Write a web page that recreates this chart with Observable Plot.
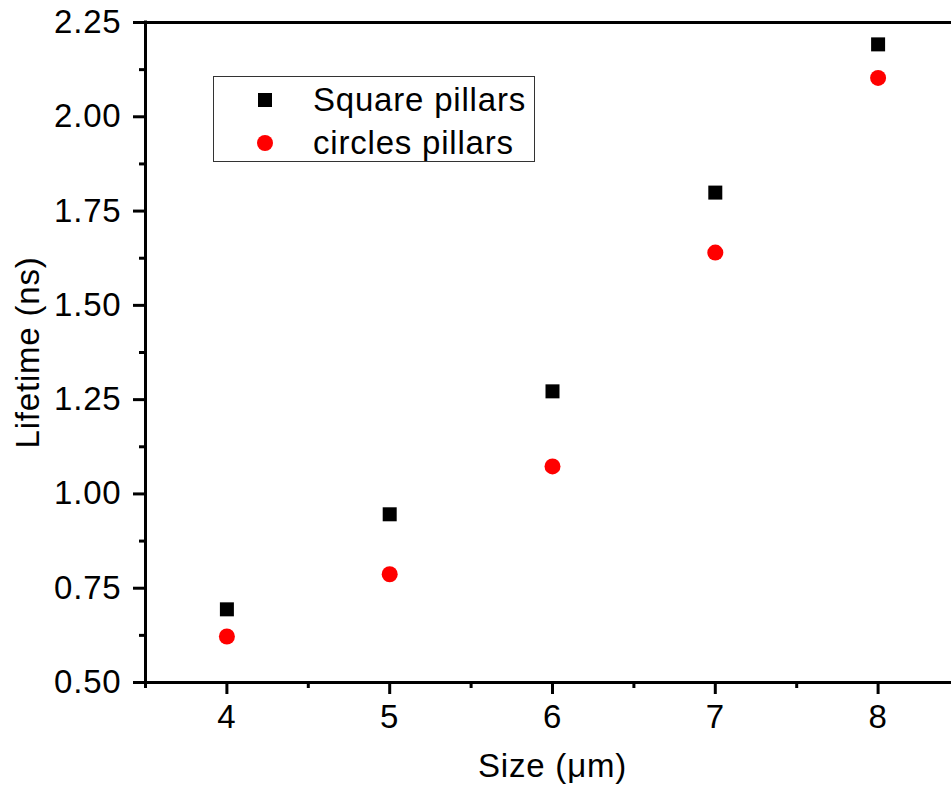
<!DOCTYPE html>
<html><head><meta charset="utf-8">
<script src="https://cdn.jsdelivr.net/npm/d3@7"></script>
<script src="https://cdn.jsdelivr.net/npm/@observablehq/plot@0.6"></script>
<style>
html,body{margin:0;padding:0;overflow:hidden;background:#fff;}
#wrap{position:relative;width:951px;height:789px;overflow:hidden;font-family:'Liberation Sans',Arial,sans-serif;}
#wrap svg{max-width:none !important;}
#legend{position:absolute;left:213px;top:76px;width:322px;height:86px;box-sizing:border-box;border:1px solid #333;background:#fff;}
#legend .row{position:absolute;left:0;height:40px;font-size:33px;letter-spacing:0.8px;color:#000;}
#legend .sym{position:absolute;}
#legend .lbl{position:absolute;left:99px;white-space:nowrap;line-height:40px;top:0;}
</style></head><body><div id="wrap"></div>
<script>
const sizes = [4, 5, 6, 7, 8];
const squareLifetime = [0.694, 0.946, 1.272, 1.799, 2.192];
const circleLifetime = [0.622, 0.787, 1.073, 1.640, 2.103];
const seriesNames = ["Square pillars", "circles pillars"];
const seriesColors = ["#000000", "#ff0000"];
const xTicks = [4, 5, 6, 7, 8];
const xMinorTicks = [3.5, 4.5, 5.5, 6.5, 7.5, 8.5];
const yTicks = [0.5, 0.75, 1.0, 1.25, 1.5, 1.75, 2.0, 2.25];
const yMinorTicks = [0.625, 0.875, 1.125, 1.375, 1.625, 1.875, 2.125];
const xLabel = "Size (\u03bcm)";
const yLabel = "Lifetime (ns)";

const squares = sizes.map((s, i) => ({size: s, lifetime: squareLifetime[i]}));
const circles = sizes.map((s, i) => ({size: s, lifetime: circleLifetime[i]}));

const FONT = "'Liberation Sans', Arial, sans-serif";
const chart = Plot.plot({
  width: 959, height: 789,
  marginLeft: 145, marginRight: 0, marginTop: 22, marginBottom: 107,
  style: {fontFamily: FONT, fontSize: "33px", color: "#000", background: "#fff", overflow: "visible", letterSpacing: "0.8px", maxWidth: "none"},
  x: {domain: [3.5, 8.5]},
  y: {domain: [0.5, 2.25]},
  marks: [
    Plot.axisX(xTicks, {tickSize: 12, tickPadding: 10, strokeWidth: 3, fontSize: 33, tickFormat: d => String(d), label: null}),
    Plot.axisX(xMinorTicks, {tickSize: 6, strokeWidth: 3, tickFormat: () => "", label: null}),
    Plot.axisY(yTicks, {tickSize: 12, tickPadding: 12, strokeWidth: 3, fontSize: 33, tickFormat: d3.format(".2f"), label: null}),
    Plot.axisY(yMinorTicks, {tickSize: 6, strokeWidth: 3, tickFormat: () => "", label: null}),
    Plot.ruleX([3.5], {strokeWidth: 3, strokeLinecap: "square"}),
    Plot.ruleY([0.5], {strokeWidth: 3, strokeLinecap: "square"}),
    Plot.ruleY([2.25], {strokeWidth: 3, strokeLinecap: "square"}),
    Plot.dot(squares, {x: "size", y: "lifetime", symbol: "square", r: 7.9, fill: seriesColors[0], stroke: "none"}),
    Plot.dot(circles, {x: "size", y: "lifetime", symbol: "circle", r: 8, fill: seriesColors[1], stroke: "none"}),
    Plot.text([yLabel], {frameAnchor: "left", dx: -117, rotate: -90, fontSize: 33, textAnchor: "middle", lineAnchor: "middle"}),
    Plot.text([xLabel], {frameAnchor: "bottom", dy: 71, lineAnchor: "top", fontSize: 33, textAnchor: "middle"})
  ]
});
const wrap = document.getElementById("wrap");
wrap.appendChild(chart);

// legend
const legend = document.createElement("div");
legend.id = "legend";
const rowTops = [3, 46];
seriesNames.forEach((name, i) => {
  const row = document.createElement("div");
  row.className = "row";
  row.style.top = rowTops[i] + "px";
  row.style.width = "100%";
  const sym = document.createElement("div");
  sym.className = "sym";
  if (i === 0) {
    sym.style.cssText = `left:44px;top:13px;width:14px;height:14px;background:${seriesColors[0]};`;
  } else {
    sym.style.cssText = `left:43px;top:12px;width:16px;height:16px;border-radius:50%;background:${seriesColors[1]};`;
  }
  const lbl = document.createElement("div");
  lbl.className = "lbl";
  lbl.textContent = name;
  row.appendChild(sym);
  row.appendChild(lbl);
  legend.appendChild(row);
});
wrap.appendChild(legend);
</script>
</body></html>
